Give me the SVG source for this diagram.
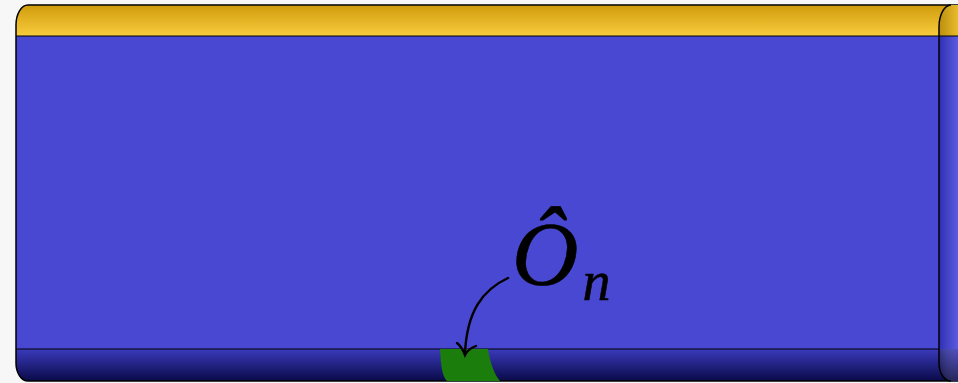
<svg xmlns="http://www.w3.org/2000/svg" width="958" height="383" viewBox="0 0 958 383">
  <defs>
    <linearGradient id="gTop" x1="0" y1="0" x2="0" y2="1">
      <stop offset="0" stop-color="#d09c0c"/>
      <stop offset="1" stop-color="#f8cc3e"/>
    </linearGradient>
    <linearGradient id="gBot" x1="0" y1="0" x2="0" y2="1">
      <stop offset="0" stop-color="#3a3abc"/>
      <stop offset="1" stop-color="#0a0a48"/>
    </linearGradient>
    <linearGradient id="gCapTop" x1="0" y1="0" x2="1" y2="0">
      <stop offset="0" stop-color="#b08408"/>
      <stop offset="1" stop-color="#f0c230"/>
    </linearGradient>
    <linearGradient id="gCapMid" x1="0" y1="0" x2="1" y2="0">
      <stop offset="0" stop-color="#2626aa"/>
      <stop offset="1" stop-color="#6262e6"/>
    </linearGradient>
    <linearGradient id="gCapShade" x1="0" y1="0" x2="1" y2="0">
      <stop offset="0" stop-color="#000000" stop-opacity="0.35"/>
      <stop offset="1" stop-color="#ffffff" stop-opacity="0.1"/>
    </linearGradient>
    <clipPath id="clipBody">
      <path d="M28,5 H961 V381 H28 A12,18 0 0 1 16,363 V25 A12,20 0 0 1 28,5 Z"/>
    </clipPath>
    <clipPath id="clipCap">
      <path d="M951,5 A12,22 0 0 0 939,27 V363 A12,18 0 0 0 951,381 H961 V5 Z"/>
    </clipPath>
  </defs>
  <style>
    .edge { fill: none; stroke: #000; stroke-width: 1.5; }
    .band { stroke: #000; stroke-width: 1; }
    .lbl { font-family: "Liberation Serif", "DejaVu Serif", serif; font-style: italic; fill: #000; stroke: #000; stroke-width: 0.6; }
    .conn { fill: none; stroke: #000; stroke-width: 2.4; stroke-linecap: round; }
  </style>
  <rect x="0" y="0" width="958" height="383" fill="#f7f7f7"/>

  <g id="cylinder">
    <g clip-path="url(#clipBody)">
      <rect x="0" y="5" width="961" height="31" fill="url(#gTop)"/>
      <rect x="0" y="36" width="961" height="313" fill="#4848d2"/>
      <rect x="0" y="349" width="961" height="32" fill="url(#gBot)"/>
      <line class="band" x1="0" y1="36" x2="961" y2="36"/>
      <line class="band" x1="0" y1="349" x2="961" y2="349"/>
    </g>
    <path class="edge" d="M28,5 H961 M961,381 H28 A12,18 0 0 1 16,363 V25 A12,20 0 0 1 28,5"/>
  </g>

  <g id="marker-region">
    <path d="M440,349 C441,366 442,376 447,381 L500,381 C494,374 490,362 488,349 Z" fill="#1b7d0b"/>
  </g>

  <g id="end-cap">
    <g clip-path="url(#clipCap)">
      <rect x="935" y="5" width="26" height="31" fill="url(#gCapTop)"/>
      <rect x="935" y="36" width="26" height="313" fill="url(#gCapMid)"/>
      <rect x="935" y="349" width="26" height="32" fill="url(#gBot)"/>
      <rect x="935" y="349" width="26" height="32" fill="url(#gCapShade)"/>
      <line class="band" x1="935" y1="36" x2="961" y2="36"/>
    </g>
    <path class="edge" d="M951,5 A12,22 0 0 0 939,27 V363 A12,18 0 0 0 951,381"/>
  </g>

  <g id="label">
    <text class="lbl" x="512" y="285" font-size="92">Ô<tspan dx="4" dy="15" font-size="56">n</tspan></text>
  </g>

  <g id="connectors">
    <path class="conn" d="M508,278 C482,290 467,312 465,353"/>
    <path class="conn" d="M457,343 Q462,347 465,355 Q468,349 476,346"/>
  </g>
</svg>
